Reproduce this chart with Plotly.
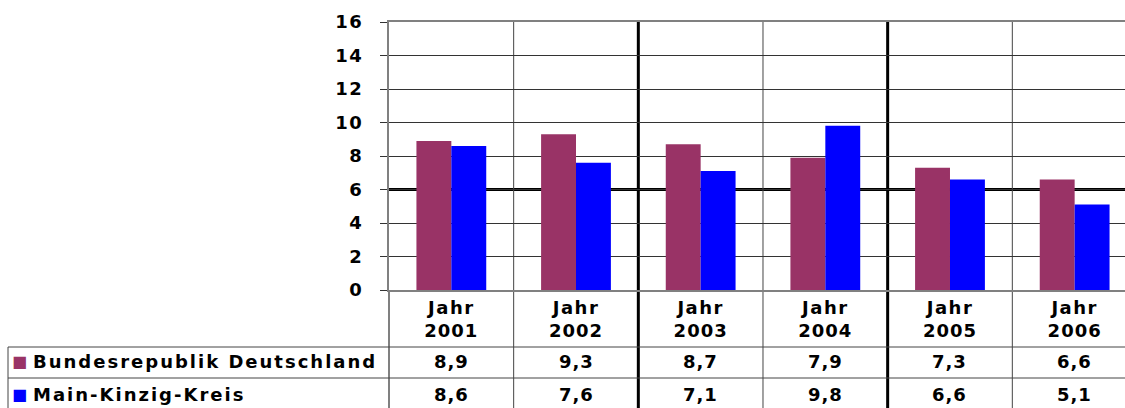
import plotly.graph_objects as go

years = ["2001", "2002", "2003", "2004", "2005", "2006"]
series_names = ["Bundesrepublik Deutschland", "Main-Kinzig-Kreis"]
bund = [8.9, 9.3, 8.7, 7.9, 7.3, 6.6]
mkk = [8.6, 7.6, 7.1, 9.8, 6.6, 5.1]
colors = ["#993366", "#0000FF"]
y_ticks = [0, 2, 4, 6, 8, 10, 12, 14, 16]

W, H = 1125, 408
L, T, B = 389, 22, 118
PW, PH = W - L, H - T - B
FONT = "DejaVu Sans"
BOLD = dict(family=FONT, size=18, color="black", weight="bold")


def py(px):
    # pixel row -> paper y
    return (H - B - px) / PH


def pxx(px):
    # pixel column -> paper x
    return (px - L) / PW


def spaced(s, ls):
    return f"<span style='letter-spacing:{ls}px'>{s}</span>"


cats = ["Jahr " + y for y in years]

fig = go.Figure()
for name, vals, col in zip(series_names, [bund, mkk], colors):
    fig.add_trace(go.Bar(x=cats, y=vals, name=name, marker=dict(color=col, line_width=0)))

fig.update_layout(
    width=W,
    height=H,
    margin=dict(l=L, r=0, t=T, b=B),
    paper_bgcolor="white",
    plot_bgcolor="white",
    showlegend=False,
    barmode="group",
    bargap=0.44,
    bargroupgap=0,
    font=BOLD,
)

fig.update_xaxes(
    range=[-0.5, 5.5 - 12 / 124.8],
    showline=True,
    mirror=True,
    linecolor="#808080",
    linewidth=2,
    showgrid=False,
    ticks="",
    tickvals=cats,
    ticktext=[spaced("Jahr", 1.5) + "<br>" + spaced(y, 1) for y in years],
    tickfont=BOLD,
)
fig.update_yaxes(
    range=[0, 16],
    tickvals=y_ticks,
    ticktext=[spaced(t, 1.5) for t in y_ticks],
    showgrid=True,
    gridcolor="#333333",
    gridwidth=1,
    zeroline=False,
    showline=True,
    linecolor="#808080",
    linewidth=2,
    ticks="outside",
    ticklen=7,
    tickcolor="#333333",
    ticklabelstandoff=13,
    tickfont=BOLD,
)

bottom = py(H + 5)
shapes = []
# thick line at 6
shapes.append(dict(type="line", xref="paper", yref="y", x0=0, x1=1, y0=6, y1=6,
                   line=dict(color="black", width=3), layer="below"))
# category boundaries, running down through the table
for i in range(len(years) - 1):
    thick = i in (1, 3)
    shapes.append(dict(type="line", xref="x", yref="paper", x0=i + 0.5, x1=i + 0.5,
                       y0=bottom, y1=1,
                       line=dict(color="black" if thick else "#444444", width=3 if thick else 1),
                       layer="below"))
# y-axis line continued into table
shapes.append(dict(type="line", xref="paper", yref="paper", x0=0, x1=0, y0=bottom, y1=0,
                   line=dict(color="#808080", width=2)))
# table row lines
for r in (347, 378):
    shapes.append(dict(type="line", xref="paper", yref="paper", x0=pxx(8), x1=1,
                       y0=py(r), y1=py(r), line=dict(color="#444444", width=1)))
shapes.append(dict(type="line", xref="paper", yref="paper", x0=pxx(8), x1=pxx(8),
                   y0=bottom, y1=py(347), line=dict(color="#444444", width=1)))
fig.update_layout(shapes=shapes)

rows_y = [361, 394]
annotations = []
for name, vals, col, ry in zip(series_names, [bund, mkk], colors, rows_y):
    annotations.append(dict(xref="paper", yref="paper", x=pxx(10), y=py(ry), xanchor="left",
                            yanchor="middle", text="■", showarrow=False,
                            font=dict(family=FONT, size=16, color=col)))
    annotations.append(dict(xref="paper", yref="paper", x=pxx(31), y=py(ry), xanchor="left",
                            yanchor="middle", text=spaced(name, 2), showarrow=False,
                            font=BOLD))
    for c, v in zip(cats, vals):
        annotations.append(dict(xref="x", yref="paper", x=c, y=py(ry), xanchor="center",
                                yanchor="middle", text=spaced(f"{v:.1f}".replace(".", ","), 1),
                                showarrow=False, font=BOLD))
fig.update_layout(annotations=annotations)

fig.write_html("out.html", config={"displayModeBar": False},
               post_script="document.body.style.margin = '0px';")
